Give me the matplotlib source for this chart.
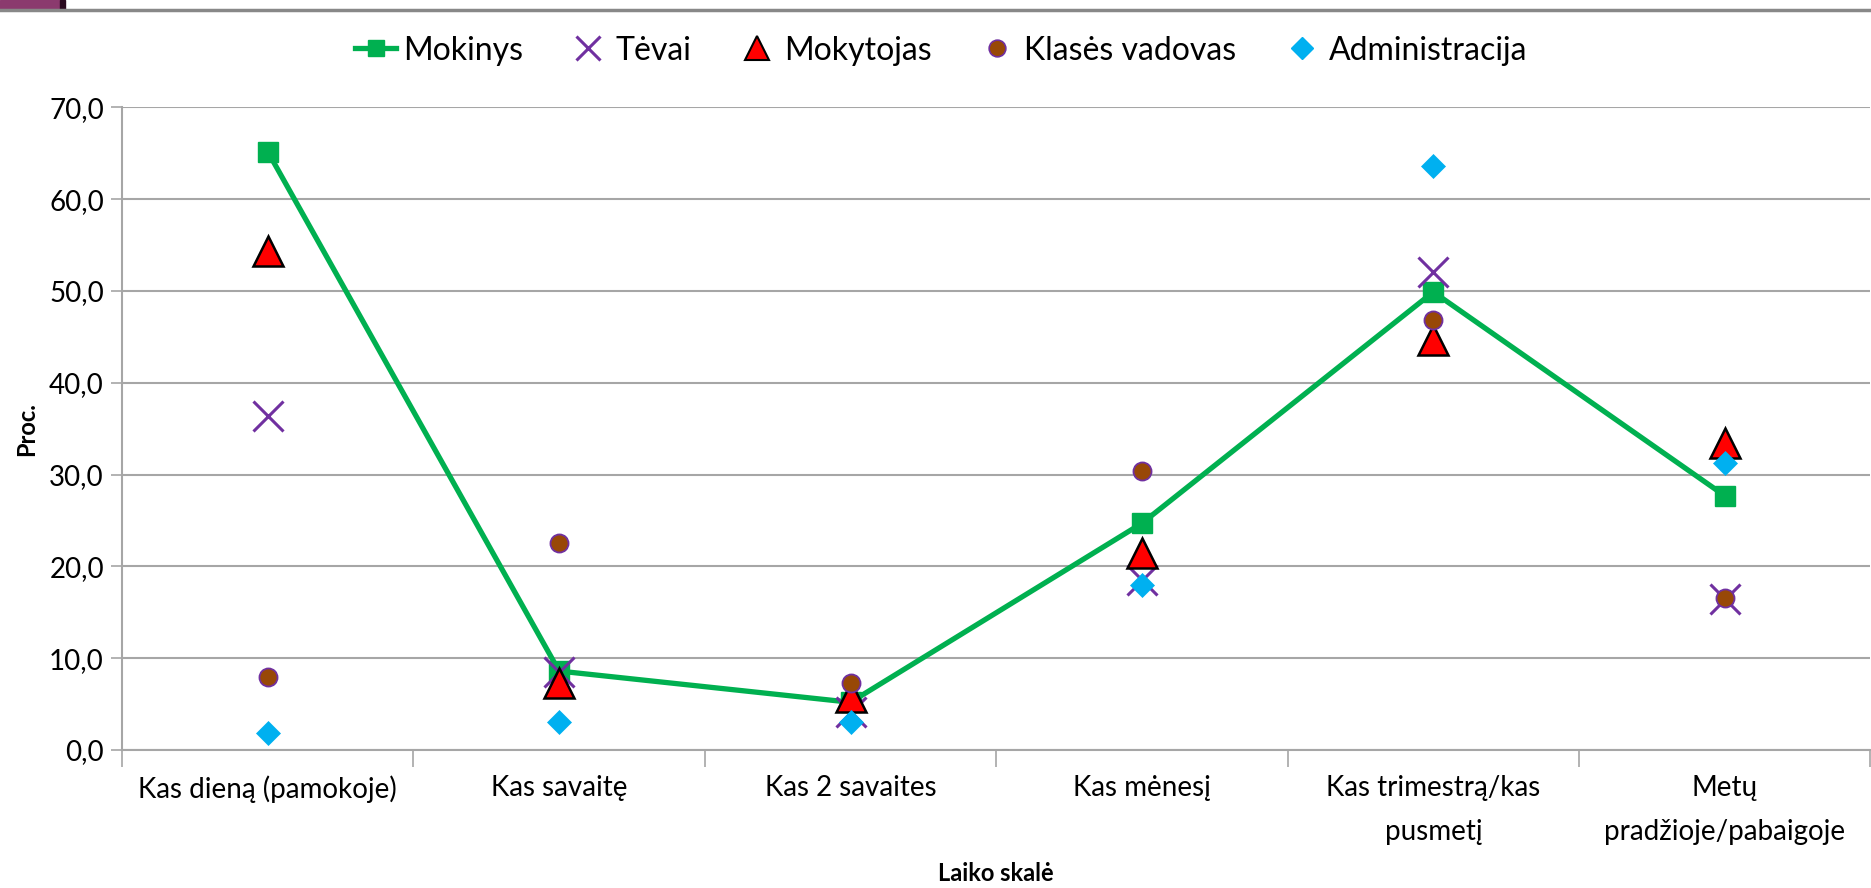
import matplotlib
matplotlib.use("Agg")
import matplotlib.pyplot as plt
from matplotlib.ticker import FuncFormatter, FixedLocator
from matplotlib.patches import Rectangle
from matplotlib.lines import Line2D

categories = ["Kas dieną (pamokoje)", "Kas savaitę", "Kas 2 savaites", "Kas mėnesį",
              "Kas trimestrą/kas\npusmetį", "Metų\npradžioje/pabaigoje"]
mokinys = [65.2, 8.6, 5.2, 24.7, 49.9, 27.7]
tevai = [36.4, 8.5, 4.1, 18.5, 52.1, 16.4]
mokytojas = [54.4, 7.3, 5.8, 21.5, 44.7, 33.4]
klases_vadovas = [7.9, 22.5, 7.3, 30.4, 46.8, 16.6]
administracija = [1.9, 3.0, 3.0, 18.0, 63.6, 31.3]
series_names = ["Mokinys", "Tėvai", "Mokytojas", "Klasės vadovas", "Administracija"]

plt.rcParams['font.family'] = ['Lato', 'DejaVu Sans']

fig = plt.figure(figsize=(18.71, 8.88), dpi=100)
ax = fig.add_axes([0.0652, 0.1554, 0.9345, 0.7236])

x = list(range(len(categories)))
grid_c = "#a6a6a6"

ax.plot(x, mokinys, color="#00B050", lw=3.8, marker="s", ms=14.5, mec="#00B050",
        mfc="#00B050", label=series_names[0], zorder=3)
ax.plot(x, tevai, ls="none", marker="x", ms=22, mew=2.2, color="#7030A0",
        label=series_names[1], zorder=4)
ax.plot(x, mokytojas, ls="none", marker="^", ms=21, mfc="#FF0000", mec="black", mew=1.8,
        label=series_names[2], zorder=5)
ax.plot(x, klases_vadovas, ls="none", marker="o", ms=13, mfc="#984807", mec="#7030A0",
        mew=1.3, label=series_names[3], zorder=6)
ax.plot(x, administracija, ls="none", marker="D", ms=12, mfc="#00B0F0", mec="#00B0F0",
        mew=0.5, label=series_names[4], zorder=7)

ax.set_xlim(-0.5, len(categories) - 0.5)
ax.set_ylim(0, 70)
ax.set_yticks([0, 10, 20, 30, 40, 50, 60, 70])
ax.yaxis.set_major_formatter(FuncFormatter(lambda v, p: f"{v:.1f}".replace(".", ",")))
ax.yaxis.grid(True, color=grid_c, lw=1.5)
ax.set_axisbelow(True)

ax.set_xticks(x)
ax.set_xticklabels(categories, fontsize=20, linespacing=1.85)
ax.xaxis.set_minor_locator(FixedLocator([i - 0.5 for i in range(len(categories) + 1)]))
ax.tick_params(axis="x", which="major", length=0, pad=18)
ax.tick_params(axis="x", which="minor", length=12, width=1.2, color=grid_c)
ax.tick_params(axis="y", length=8, width=1.2, color=grid_c, labelsize=20, pad=5)

for s in ["top", "right"]:
    ax.spines[s].set_visible(False)
ax.spines["left"].set_color(grid_c)
ax.spines["bottom"].set_color(grid_c)
ax.spines["left"].set_linewidth(1.5)
ax.spines["bottom"].set_linewidth(1.5)

ax.set_ylabel("Proc.", fontsize=17, fontweight="bold", labelpad=8)
ax.set_xlabel("Laiko skalė", fontsize=17, fontweight="bold", labelpad=12)

handles = [
    Line2D([], [], color="#00B050", lw=3.8, marker="s", ms=12),
    Line2D([], [], ls="none", marker="x", ms=17, mew=2.2, color="#7030A0"),
    Line2D([], [], ls="none", marker="^", ms=17, mfc="#FF0000", mec="black", mew=1.5),
    Line2D([], [], ls="none", marker="o", ms=12, mfc="#984807", mec="#7030A0", mew=1.2),
    Line2D([], [], ls="none", marker="D", ms=11, mfc="#00B0F0", mec="#00B0F0"),
]
fig.legend(handles, series_names, loc="center", bbox_to_anchor=(0.503, 0.943), ncol=5,
           frameon=False, fontsize=23, handlelength=1.3, handletextpad=0.2,
           columnspacing=1.4)

# top decorations
fig.add_artist(Line2D([0, 1], [1 - 10 / 888, 1 - 10 / 888], color="#888888", lw=2.5,
                      transform=fig.transFigure))
fig.add_artist(Rectangle((0, 1 - 9 / 888), 60 / 1871, 9 / 888, color="#8B3A6E",
                         transform=fig.transFigure))
fig.add_artist(Rectangle((60 / 1871, 1 - 9 / 888), 5 / 1871, 9 / 888, color="#2a0a20",
                         transform=fig.transFigure))

fig.savefig("out.png", dpi=100)
